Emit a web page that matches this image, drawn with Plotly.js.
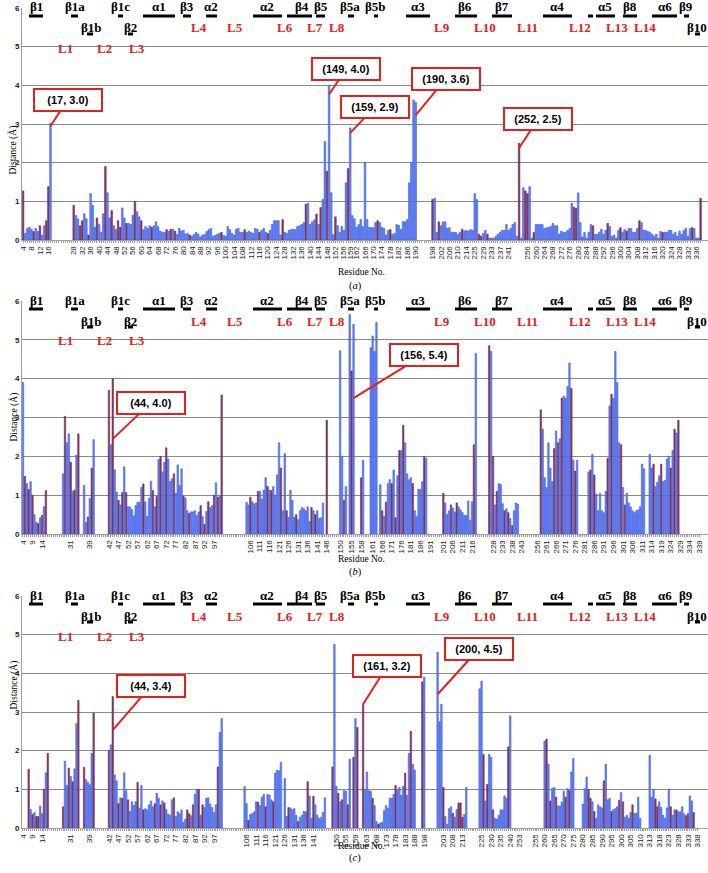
<!DOCTYPE html>
<html><head><meta charset="utf-8">
<script src="https://cdn.plot.ly/plotly-3.0.1.min.js"></script>
<style>html,body{margin:0;padding:0;background:#fff}#chart{width:708px;height:873px}</style>
</head><body><div id="chart"></div>
<script>
// ---------------- DATA ----------------
// category layout: "a-b" = residues a..b (one category each), "_n" = n empty alignment slots
const catsA = ["4-214", "222-243", "250-338"];
const distA = [
  1.27,0.17,0.3,0.33,0.28,0.22,0.3,0.22,0.37,0.12,0.37,0.5,1.38,3.02,            // 4-17
  null,null,null,null,null,null,null,null,null,null,                               // 18-27
  0.9,0.63,0.55,0.37,0.5,0.68,0.55,0.13,1.2,0.9,0.33,0.57,0.4,0.2,0.68,1.9,1.22,
  0.57,0.76,0.37,0.27,0.5,0.33,0.83,0.57,0.43,0.43,0.4,0.64,1.0,0.73,0.6,0.5,       // 28-60
  0.27,0.35,0.3,0.37,0.33,0.37,0.47,0.35,0.23,0.2,                                 // 61-70
  0.2,0.27,0.23,0.28,0.28,0.23,0.14,0.3,0.23,0.25,                                 // 71-80
  0.16,0.17,0.13,0.1,0.15,0.2,0.15,0.08,0.13,0.14,                                 // 81-90
  0.22,0.27,0.3,0.1,0.12,0.15,0.17,0.2,0.12,0.1,                                   // 91-100
  0.35,0.27,0.17,0.13,0.28,0.3,0.2,0.2,0.27,0.2,                                   // 101-110
  0.23,0.2,0.17,0.3,0.28,0.2,0.25,0.3,0.2,0.17,                                    // 111-120
  0.25,0.4,0.5,0.5,0.5,0.13,0.53,0.2,0.17,0.25,                                    // 121-130
  0.27,0.28,0.27,0.35,0.37,0.4,0.45,0.93,0.95,0.4,                                 // 131-140
  0.47,0.52,0.67,0.4,0.84,1.05,2.55,                                               // 141-147
  1.78,4.0,1.22,0.14,0.6,0.37,0.2,0.35,0.25,1.48,1.85,2.9,                         // 148-159
  0.63,0.55,0.33,0.4,0.53,0.35,2.0,0.53,0.33,0.32,0.32,0.45,0.5,0.45,0.33,0.3,
  0.13,0.25,0.27,0.15,0.17,0.4,0.38,0.27,0.48,0.47,0.53,                           // 160-186
  1.48,2.0,3.62,3.56,                                                              // 187-190
  null,null,null,null,null,null,null,                                              // 191-197
  1.05,1.08,0.2,0.47,0.37,0.47,0.47,0.3,0.32,0.2,0.2,0.2,0.15,0.2,0.28,0.23,0.25,  // 198-214
  0.23,0.27,0.25,1.2,1.05,0.15,0.1,0.17,0.25,0.15,0.05,0.05,0.05,0.1,0.15,0.2,
  0.25,0.25,0.4,0.25,0.3,0.4,                                                      // 222-243
  0.45,0.1,2.5,0.05,1.35,1.27,1.2,1.38,0.05,                                       // 250-258
  0.2,0.4,0.4,0.4,0.4,0.3,0.32,0.33,0.35,0.43,                                     // 259-268
  0.37,0.37,0.15,0.23,0.2,0.2,0.25,0.3,0.95,0.85,                                  // 269-278
  0.82,1.22,0.45,0.08,0.2,0.05,0.2,0.4,0.37,0.15,                                  // 279-288
  0.15,0.2,0.28,0.15,0.25,0.43,0.35,0.1,0.13,0.05,                                 // 289-298
  0.25,0.32,0.2,0.27,0.23,0.3,0.3,0.2,0.2,0.3,                                     // 299-308
  0.5,0.45,0.25,0.25,0.22,0.2,0.15,0.1,0.15,0.05,                                  // 309-318
  0.22,0.2,0.2,0.2,0.25,0.25,0.15,0.2,0.1,0.23,                                    // 319-328
  0.15,0.25,0.3,0.1,0.3,0.32,0.3,0.05,0.05,1.08                                    // 329-338
];
const darkA = [4,9,12,15,16,28,31,32,35,39,43,46,49,50,53,57,60,65,72,74,76,83,98,109,116,120,127,138,143,145,148,152,158,172,178,198,201,212,227,228,231,252,255,256,259,278,279,287,294,300,303,309,320,334,338];
const ticksA = [4,8,12,16,28,32,36,40,44,48,52,56,60,64,68,72,76,80,84,88,92,96,100,104,108,112,116,120,124,128,132,136,140,144,148,152,156,159,162,166,170,174,178,182,186,190,198,202,206,210,214,225,229,233,237,241,256,260,264,268,272,276,280,284,288,292,296,300,304,308,312,316,320,324,328,332,336];

const catsB = ["4-16","19-35","_2","36-41","_7","42-103","_10","104-149","_3","150-153","_1","154-157","_2","158-159","_3","160-197","201-218","220-250","256-312","_2","313-339"];
const distB = [
  3.9,1.48,1.3,1.15,1.35,1.0,0.5,0.3,0.27,0.42,0.48,0.7,1.12,                       // 4-16
  null,null,null,null,null,null,null,null,                                         // 19-26
  1.55,3.03,2.35,2.58,1.85,1.1,1.13,2.03,2.58,                                     // 27-35
  1.25,0.3,0.44,0.92,1.7,2.43,                                                     // 36-41
  3.7,2.3,4.0,1.65,1.08,0.87,0.75,1.07,1.73,1.07,                                  // 42-51
  0.7,0.7,0.63,0.47,0.73,0.82,0.82,1.2,1.29,0.83,                                  // 52-61
  0.45,0.92,1.36,1.12,0.7,0.97,1.92,2.0,1.6,1.85,                                  // 62-71
  2.22,1.93,1.35,1.42,1.55,1.05,1.78,1.25,1.68,0.97,                               // 72-81
  0.93,0.6,0.53,0.57,0.57,0.6,0.48,0.57,0.73,0.45,                                 // 82-91
  0.25,0.58,0.83,0.68,0.73,1.0,1.32,0.95,0.98,3.58,                                // 92-101
  null,null,                                                                       // 102-103
  0.82,0.75,0.95,0.83,0.78,0.8,1.1,1.1,0.9,1.13,                                   // 104-113
  1.45,1.23,1.13,1.12,1.22,1.0,1.52,2.35,1.7,0.6,                                  // 114-123
  2.07,0.6,0.43,1.13,0.87,0.43,0.5,0.37,0.6,0.68,                                  // 124-133
  0.65,0.6,0.7,0.32,0.68,0.6,0.5,0.6,0.4,0.42,0.8,                                 // 134-144
  null,2.93,null,null,null,                                                        // 145-149
  4.72,2.0,0.87,1.22,                                                              // 150-153
  5.65,4.2,5.4,null,                                                               // 154-157
  1.45,1.9,                                                                        // 158-159
  4.8,5.1,4.7,5.45,null,                                                           // 160-164
  1.27,0.6,0.45,0.82,1.3,1.4,1.3,1.65,0.42,1.5,                                    // 165-174
  2.15,2.15,2.8,2.35,1.55,1.4,1.45,1.3,0.6,0.45,                                   // 175-184
  1.15,1.15,1.35,2.0,1.95,                                                         // 185-189
  null,null,null,null,null,null,null,null,                                         // 190-197
  1.05,0.8,0.5,0.6,0.75,0.67,0.57,0.8,0.7,0.62,0.55,0.48,0.48,0.85,0.35,0.83,2.3,4.65, // 201-218
  null,null,null,null,null,null,                                                   // 220-225
  4.85,4.7,2.0,0.75,1.1,1.3,1.28,0.78,0.6,0.65,0.55,0.4,0.22,0.6,0.8,0.77,         // 226-241
  null,null,null,null,null,null,null,null,null,                                    // 242-250
  null,null,                                                                       // 256-257
  3.2,2.7,1.45,1.2,2.35,1.7,1.35,2.2,2.65,2.35,                                    // 258-267
  2.45,3.5,3.55,3.5,3.8,4.4,3.75,1.9,1.62,1.9,                                     // 268-277
  null,null,null,null,null,                                                        // 278-282
  1.6,1.65,2.05,1.52,1.03,0.6,1.05,0.6,0.55,1.1,                                   // 283-292
  1.95,3.3,3.6,3.5,4.7,3.9,2.35,2.3,1.2,0.75,                                      // 293-302
  1.05,0.8,0.7,0.6,0.55,0.6,0.62,0.7,1.8,1.68,                                     // 303-312
  2.05,1.7,1.8,1.22,1.33,1.5,1.8,1.35,1.38,1.93,2.0,1.7,2.15,2.7,2.6,2.93,         // 313-328
  null,null,null,null,null,null,null,null,null,null,null                           // 329-339
];
const darkB = [5,7,9,12,14,16,28,31,33,35,38,40,42,44,47,49,51,60,65,67,69,72,76,81,84,90,92,94,97,99,101,106,110,115,117,122,125,130,138,140,146,152,155,158,166,168,171,173,175,177,182,188,201,205,208,217,226,228,230,234,236,238,258,265,267,269,274,276,284,286,293,295,300,302,315,319,324,326,328];
const ticksB = [4,9,14,31,39,42,47,52,57,62,67,72,77,82,87,92,97,106,111,116,121,126,131,136,141,146,150,155,158,161,166,171,176,181,186,191,201,206,211,216,228,233,238,243,256,261,266,271,276,281,286,291,296,301,306,311,314,319,324,329,334,339];

const catsC = ["4-17","20-35","_2","36-41","_7","42-104","_8","105-147","_3","148-157","_1","158-160","_2","161-191","197-199","_5","200-215","218-244","253-253","_6","254-312","_2","313-338"];
const distC = [
  null,null,null,1.52,0.48,0.35,0.4,0.3,0.3,0.57,0.37,1.0,1.43,1.93,               // 4-17
  null,null,null,null,null,null,null,                                              // 20-26
  0.55,1.73,1.1,1.55,1.33,1.2,1.53,2.7,3.3,                                        // 27-35
  1.57,1.25,1.18,1.12,1.93,2.97,                                                   // 36-41
  2.0,2.15,3.4,1.37,1.22,0.63,0.78,0.77,1.43,0.97,                                 // 42-51
  0.73,0.43,0.68,0.58,0.68,1.18,0.52,1.1,0.47,0.5,                                 // 52-61
  0.47,0.6,0.7,0.55,0.63,0.9,0.77,0.6,0.7,0.65,                                    // 62-71
  0.48,0.36,0.33,0.73,0.78,0.3,0.42,0.37,0.47,0.15,                                // 72-81
  0.23,0.47,0.37,0.32,0.6,0.87,1.0,1.0,0.33,0.6,                                   // 82-91
  0.53,0.77,0.78,0.62,0.53,0.4,0.6,1.58,2.47,2.83,                                 // 92-101
  null,null,null,                                                                  // 102-104
  1.07,0.63,0.2,0.35,0.37,0.42,0.68,0.67,0.58,0.8,                                 // 105-114
  0.87,0.55,0.87,0.85,0.73,0.68,1.42,1.5,1.48,1.7,                                 // 115-124
  null,                                                                            // 125
  1.28,0.3,0.53,0.52,0.47,0.5,0.33,0.17,0.28,0.33,                                 // 126-135
  0.43,0.42,1.2,0.83,0.25,0.82,0.6,0.33,0.25,0.28,0.4,0.78,                        // 136-147
  1.58,4.75,1.08,0.9,0.68,0.73,0.97,0.95,0.6,1.78,                                 // 148-157
  1.83,2.83,2.6,                                                                   // 158-160
  3.2,1.0,1.45,0.97,0.95,0.77,0.58,0.17,0.1,0.13,                                  // 161-170
  0.15,0.45,0.58,0.52,0.77,0.77,0.87,1.1,0.98,1.05,                                // 171-180
  0.85,1.08,1.42,0.85,1.93,2.5,1.65,1.5,                                           // 181-188
  null,null,null,                                                                  // 189-191
  3.78,3.9,null,                                                                   // 197-199
  4.55,2.75,3.2,1.05,0.3,0.1,0.5,0.55,0.38,0.28,0.48,0.65,0.65,0.28,0.35,1.05,     // 200-215
  null,null,null,null,null,null,                                                   // 218-223
  3.6,3.8,1.9,0.7,1.13,1.9,1.83,0.47,0.25,0.23,0.33,0.47,0.47,0.83,0.77,2.1,2.9,   // 224-240
  null,null,null,null,                                                             // 241-244
  null,                                                                            // 253
  null,null,null,null,null,null,                                                   // 254-259
  2.25,2.3,1.65,0.7,1.02,1.05,0.8,0.57,0.57,0.67,0.95,0.8,1.02,0.97,1.45,1.8,      // 260-275
  null,null,null,null,                                                             // 276-279
  0.62,1.02,1.32,1.0,0.77,0.68,0.43,0.25,0.6,0.55,                                 // 280-289
  0.52,1.22,1.65,0.73,0.77,0.43,0.48,0.5,0.55,0.72,                                // 290-299
  0.92,0.68,0.28,0.33,0.25,0.4,0.6,0.38,0.38,0.8,0.25,                             // 300-310
  null,null,                                                                       // 311-312
  1.88,0.8,1.0,0.75,0.55,0.68,0.53,0.33,0.25,0.52,                                 // 313-322
  1.0,0.55,0.33,0.47,0.47,0.42,0.42,0.55,0.37,0.32,                                // 323-332
  0.37,0.83,0.7,0.4,null,null                                                      // 333-338
];
const darkC = [7,9,11,12,15,17,27,30,32,35,36,41,42,44,47,49,52,57,60,66,69,71,76,83,84,86,89,91,99,107,112,116,120,128,133,138,141,148,151,153,156,158,160,161,166,169,178,183,186,197,203,208,211,212,213,226,228,231,239,261,263,266,271,273,283,284,286,291,295,299,301,306,316,317,324,327,332,333,336];
const ticksC = [4,9,14,31,39,42,47,52,57,62,67,72,77,82,87,92,97,106,111,116,121,126,131,136,141,150,155,159,163,168,173,178,183,188,198,203,208,213,225,230,235,240,253,255,260,265,270,275,280,285,290,295,300,305,310,313,318,323,328,333,338];

// callouts: [text, residue, value at arrow tip]
const calloutsA = [["(17, 3.0)",17,2.95],["(149, 4.0)",149,3.77],["(159, 2.9)",159,2.77],["(190, 3.6)",190,3.23],["(252, 2.5)",252,2.38]];
const calloutsB = [["(44, 4.0)",44,2.45],["(156, 5.4)",156,3.5]];
const calloutsC = [["(44, 3.4)",44,2.53],["(161, 3.2)",161,3.2],["(200, 4.5)",200,3.46]];

// ---------------- STYLE / LAYOUT ----------------
const BLUE = '#6b86ec', BLUE_EDGE = '#2a4ee8', DARK = '#6a4478', DARK_EDGE = '#8c1d34';
const RED = '#e3211c';
const W = 708, H = 873, L = 22, PW = W - L;
const panels = [
  {cats:catsA, dist:distA, dark:darkA, ticks:ticksA, callouts:calloutsA, top:8, bot:240, n:325, letter:'a',
   offs:[[17,-26],[17,-25],[25,-26],[30,-36],[19,-29]]},
  {cats:catsB, dist:distB, dark:darkB, ticks:ticksB, callouts:calloutsB, top:301, bot:534, n:359, letter:'b',
   offs:[[38,-36],[70,-43]]},
  {cats:catsC, dist:distC, dark:darkC, ticks:ticksC, callouts:calloutsC, top:596, bot:828, n:359, letter:'c',
   offs:[[38,-44],[24,-38],[41,-45]]}
];

// secondary structure labels [text, textX, barX0, barX1] (pixel x)
const ssTop = [['β1',36,29,43],['β1a',75,71,78],['β1c',120,118,123],['α1',159,143,175],['β3',187,183,191],['α2',211,206,217],['α2',267,253,282],['β4',302,287,312],['β5',321,316,325],['β5a',350,348,354],['β5b',375,374,378],['α3',418,406,430],['β6',465,455,477],['β7',502,492,512],['α4',557,543,572],['',590,588,593],['α5',605,596,615],['β8',630,623,637],['α6',665,652,677],['β9',686,684,689]];
const ssLow = [['β1b',91,87,93],['β2',130,128,133],['β10',697,695,700]];
const loopMid = [['L4',199],['L5',235],['L6',285],['L7',315],['L8',337],['L9',442],['L10',485],['L11',527],['L12',580],['L13',617],['L14',645]];
const loopLow = [['L1',65],['L2',104],['L3',137]];

function px2x(p){ return (p - L) / PW; }
function py2y(p){ return 1 - p / H; }

function build(cats, dist, dark, ticks){
  const x=[], y=[], fill=[], edge=[], tv=[], tt=[];
  let k=0, g=0;
  for (const c of cats){
    if (c[0] === '_'){
      const n = parseInt(c.slice(1));
      for (let i=0;i<n;i++){ const id='gap'+(g++); x.push(id); y.push(null); fill.push(BLUE); edge.push(BLUE_EDGE); tv.push(id); tt.push(''); }
    } else {
      const p = c.split('-').map(Number); const a=p[0], b=p.length>1?p[1]:p[0];
      for (let r=a;r<=b;r++){
        const id=String(r); x.push(id); y.push(k<dist.length?dist[k]:null); k++;
        const d = dark.includes(r);
        fill.push(d?DARK:BLUE); edge.push(d?DARK_EDGE:BLUE_EDGE);
        tv.push(id); tt.push(ticks.includes(r)?id:'');
      }
    }
  }
  if (k !== dist.length) throw new Error('length mismatch '+k+' vs '+dist.length);
  return {x,y,fill,edge,tv,tt};
}

const data = [], annotations = [], shapes = [];
const layout = {
  width: W, height: H, margin:{l:L, r:0, t:0, b:0}, paper_bgcolor:'#fff', plot_bgcolor:'#fff',
  showlegend:false, bargap:0.2, hovermode:false
};
const serifB = {family:'Liberation Serif, Times New Roman, serif', size:13, color:'#000', weight:'bold'};
const serifR = {family:'Liberation Serif, Times New Roman, serif', size:13, color:RED, weight:'bold'};

panels.forEach((P, i) => {
  const s = i===0 ? '' : String(i+1);
  const b = build(P.cats, P.dist, P.dark, P.ticks);
  data.push({type:'bar', x:b.x, y:b.y, xaxis:'x'+s, yaxis:'y'+s,
    marker:{color:b.fill, line:{color:b.edge, width:0.5}}, hoverinfo:'skip'});
  const dom = [py2y(P.bot), py2y(P.top)];
  layout['xaxis'+s] = {domain:[0,1], anchor:'y'+s, type:'category', range:[-0.5, P.n-0.5],
    tickmode:'array', tickvals:b.tv, ticktext:b.tt, tickangle:-90,
    tickfont:{family:'Liberation Sans, Arial, sans-serif', size:8, color:'#222'},
    ticks:'outside', ticklen:2, tickcolor:'#a0a0a0', tickwidth:1,
    showline:true, linecolor:'#a0a0a0', linewidth:1, showgrid:false, zeroline:false,
    automargin:false, fixedrange:true};
  layout['yaxis'+s] = {domain:dom, anchor:'x'+s, range:[0,6], dtick:1, tick0:0,
    tickfont:{family:'Liberation Sans, Arial, sans-serif', size:8, color:'#222', weight:'bold'},
    showgrid:true, gridcolor:'#8a8a8a', gridwidth:1, showline:true, linecolor:'#a0a0a0',
    zeroline:false, ticks:'', automargin:false, fixedrange:true};

  // axis titles and panel letter
  annotations.push({xref:'paper', yref:'paper', x:px2x(5), y:py2y((P.top+P.bot)/2), text:'Distance (Å)',
    textangle:-90, showarrow:false, font:{family:'Liberation Serif, Times New Roman, serif', size:9.5, color:'#000'}});
  annotations.push({xref:'paper', yref:'paper', x:px2x(361), y:py2y(P.bot+25), text:'Residue No.',
    showarrow:false, font:{family:'Liberation Serif, Times New Roman, serif', size:9.5, color:'#000'}});
  annotations.push({xref:'paper', yref:'paper', x:px2x(355), y:py2y(P.bot+38), text:'(<i>'+P.letter+'</i>)',
    showarrow:false, font:{family:'Liberation Serif, Times New Roman, serif', size:10.5, color:'#000'}});

  // secondary structure annotations
  const t = P.top;
  ssTop.forEach(([txt, tx, x0, x1]) => {
    if (txt) annotations.push({xref:'paper', yref:'paper', x:px2x(tx), y:py2y(t-1), text:txt, showarrow:false,
      xanchor:'center', yanchor:'middle', font:serifB});
    shapes.push({type:'line', xref:'paper', yref:'paper', x0:px2x(x0), x1:px2x(x1), y0:py2y(t+8), y1:py2y(t+8),
      line:{color:'#000', width:3}});
  });
  ssLow.forEach(([txt, tx, x0, x1]) => {
    annotations.push({xref:'paper', yref:'paper', x:px2x(tx), y:py2y(t+20), text:txt, showarrow:false,
      xanchor:'center', yanchor:'middle', font:serifB});
    shapes.push({type:'line', xref:'paper', yref:'paper', x0:px2x(x0), x1:px2x(x1), y0:py2y(t+26), y1:py2y(t+26),
      line:{color:'#000', width:3}});
  });
  loopMid.forEach(([txt, tx]) => annotations.push({xref:'paper', yref:'paper', x:px2x(tx), y:py2y(t+20), text:txt,
    showarrow:false, xanchor:'center', yanchor:'middle', font:serifR}));
  loopLow.forEach(([txt, tx]) => annotations.push({xref:'paper', yref:'paper', x:px2x(tx), y:py2y(t+40), text:txt,
    showarrow:false, xanchor:'center', yanchor:'middle', font:serifR}));

  // callouts (x given as category index so numeric-looking names are not misread)
  P.callouts.forEach(([txt, res, val], j) => {
    const o = P.offs[j];
    const idx = b.x.indexOf(String(res));
    annotations.push({xref:'x'+s, yref:'y'+s, x:idx, y:val, text:'<b>'+txt+'</b>',
      showarrow:true, arrowhead:0, arrowwidth:2, arrowcolor:RED, ax:o[0], ay:o[1], standoff:0, startstandoff:0,
      bordercolor:RED, borderwidth:2, borderpad:4, bgcolor:'#fff', width:58, height:12,
      font:{family:'Liberation Sans, Arial, sans-serif', size:11, color:'#000'}});
  });
});
layout.annotations = annotations;
layout.shapes = shapes;

Plotly.newPlot('chart', data, layout, {displayModeBar:false, staticPlot:true});
</script></body></html>
